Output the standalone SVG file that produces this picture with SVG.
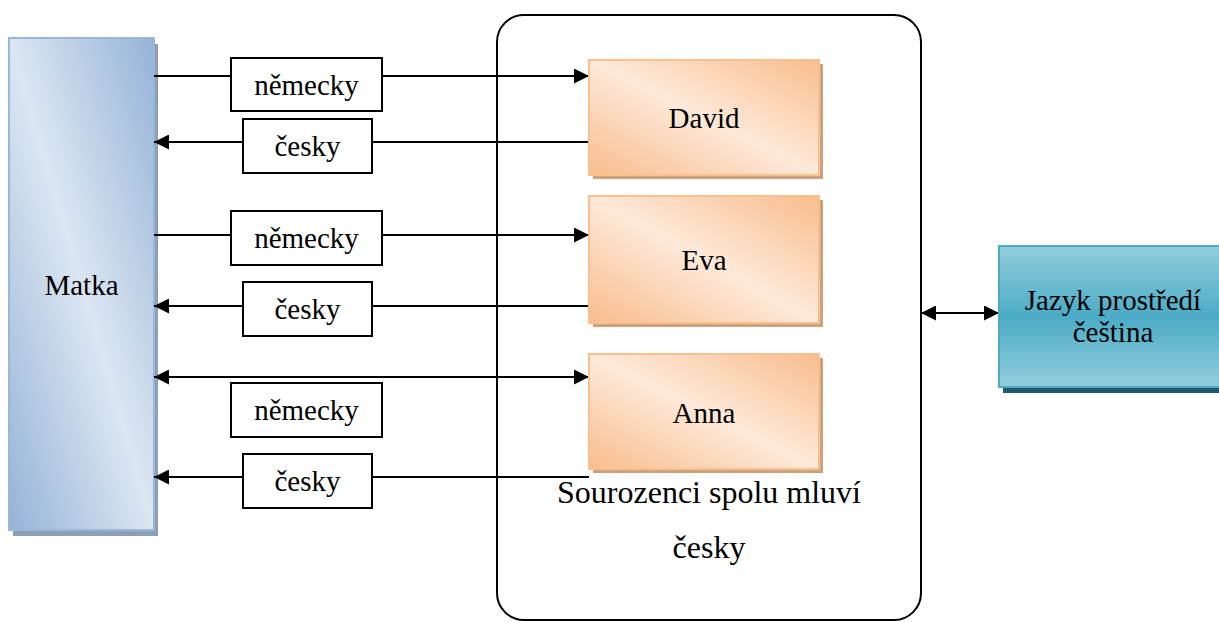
<svg xmlns="http://www.w3.org/2000/svg" width="1219" height="622" viewBox="0 0 1219 622">
  <style>
    text { font-family: 'Liberation Serif', 'DejaVu Serif', serif; font-size: 29px; fill: #000; text-anchor: middle; }
    .big { font-size: 32px; }
    .conn { stroke: #000; stroke-width: 2; fill: none; }
    .lbl { fill: #fff; stroke: #000; stroke-width: 2; }
    .child { fill: url(#gOrange); stroke: #fac090; stroke-width: 2; }
    .childShadow { fill: #cfa27e; }
  </style>
  <defs>
    <linearGradient id="gBlue" x1="1" y1="0" x2="0" y2="1">
      <stop offset="0" stop-color="#95b3d7"/>
      <stop offset="0.5" stop-color="#dce6f2"/>
      <stop offset="1" stop-color="#95b3d7"/>
    </linearGradient>
    <linearGradient id="gOrange" x1="1" y1="0" x2="0" y2="1">
      <stop offset="0" stop-color="#f9bd8d"/>
      <stop offset="0.5" stop-color="#fde9d9"/>
      <stop offset="1" stop-color="#f9bd8d"/>
    </linearGradient>
    <linearGradient id="gTeal" x1="0" y1="0" x2="0" y2="1">
      <stop offset="0" stop-color="#93cddd"/>
      <stop offset="0.5" stop-color="#4bacc6"/>
      <stop offset="1" stop-color="#93cddd"/>
    </linearGradient>
    <marker id="ah" viewBox="0 0 15 15" refX="15" refY="7.5" markerWidth="15" markerHeight="15" orient="auto-start-reverse" markerUnits="userSpaceOnUse">
      <path d="M0,0 L15,7.5 L0,15 z" fill="#000"/>
    </marker>
  </defs>

  <g id="container">
    <rect x="497" y="15" width="424" height="605" rx="27" ry="27" fill="none" stroke="#000" stroke-width="2"/>
    <text class="big" x="709" y="503">Sourozenci spolu mluví</text>
    <text class="big" x="709" y="558">česky</text>
  </g>

  <g id="matka">
    <rect x="13" y="44" width="145" height="492" fill="#8d9fb5"/>
    <rect x="9" y="38" width="145" height="492" fill="url(#gBlue)" stroke="#9ab6db" stroke-width="2"/>
    <text x="81.5" y="295">Matka</text>
  </g>

  <g id="connectors">
    <line class="conn" x1="154" y1="76" x2="589" y2="76" marker-end="url(#ah)"/>
    <line class="conn" x1="589" y1="142" x2="154" y2="142" marker-end="url(#ah)"/>
    <line class="conn" x1="154" y1="235" x2="589" y2="235" marker-end="url(#ah)"/>
    <line class="conn" x1="589" y1="306" x2="154" y2="306" marker-end="url(#ah)"/>
    <line class="conn" x1="154" y1="377" x2="589" y2="377" marker-start="url(#ah)" marker-end="url(#ah)"/>
    <line class="conn" x1="589" y1="477" x2="154" y2="477" marker-end="url(#ah)"/>
    <line class="conn" x1="921" y1="313" x2="999" y2="313" marker-start="url(#ah)" marker-end="url(#ah)"/>
  </g>

  <g id="label-nemecky-1">
    <rect class="lbl" x="231" y="58" width="151" height="53"/>
    <text x="306.5" y="95">německy</text>
  </g>
  <g id="label-cesky-1">
    <rect class="lbl" x="243" y="119" width="129" height="54"/>
    <text x="307.5" y="156">česky</text>
  </g>
  <g id="label-nemecky-2">
    <rect class="lbl" x="231" y="211" width="151" height="54"/>
    <text x="306.5" y="248">německy</text>
  </g>
  <g id="label-cesky-2">
    <rect class="lbl" x="243" y="282" width="129" height="54"/>
    <text x="307.5" y="319">česky</text>
  </g>
  <g id="label-nemecky-3">
    <rect class="lbl" x="231" y="383" width="151" height="54"/>
    <text x="306.5" y="420">německy</text>
  </g>
  <g id="label-cesky-3">
    <rect class="lbl" x="243" y="454" width="129" height="54"/>
    <text x="307.5" y="491">česky</text>
  </g>

  <g id="david">
    <rect class="childShadow" x="593" y="64" width="230" height="115"/>
    <rect class="child" x="589" y="60" width="230" height="115"/>
    <text x="704" y="128">David</text>
  </g>
  <g id="eva">
    <rect class="childShadow" x="593" y="200" width="230" height="127"/>
    <rect class="child" x="589" y="196" width="230" height="127"/>
    <text x="704" y="270">Eva</text>
  </g>
  <g id="anna">
    <rect class="childShadow" x="593" y="358" width="230" height="115"/>
    <rect class="child" x="589" y="354" width="230" height="115"/>
    <text x="704" y="423">Anna</text>
  </g>

  <g id="jazyk">
    <rect x="1003" y="251" width="228" height="142" fill="#215a6a"/>
    <rect x="999" y="246" width="228" height="141" fill="url(#gTeal)" stroke="#4bacc6" stroke-width="2"/>
    <text x="1113" y="310">Jazyk prostředí</text>
    <text x="1113" y="342">čeština</text>
  </g>
</svg>
